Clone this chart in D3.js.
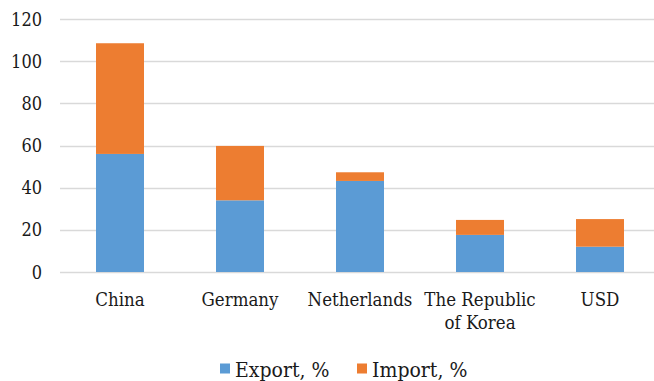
<!DOCTYPE html>
<html>
<head>
<meta charset="utf-8">
<script src="https://cdn.jsdelivr.net/npm/d3@7"></script>
<style>
  body { margin: 0; background: #fff; }
  svg text { font-family: "DejaVu Serif Condensed", "DejaVu Serif", serif; font-stretch: condensed; }
</style>
</head>
<body>
<svg id="chart" width="654" height="381"></svg>
<script>
const countries = ["China", "Germany", "Netherlands", "The Republic|of Korea", "USD"];
const exportPct = [56, 34, 43.2, 17.6, 12];
const importPct = [52.5, 25.8, 4.1, 7.1, 13.1];
const yTicks = [0, 20, 40, 60, 80, 100, 120];
const seriesNames = ["Export, %", "Import, %"];
const colors = ["#5b9bd5", "#ed7d31"];

const svg = d3.select("#chart");

const x = d3.scaleBand().domain(countries).range([60, 660]).paddingInner(0.6).paddingOuter(0.3);
const y = d3.scaleLinear().domain([0, 120]).range([272, 19]);

// gridlines
svg.append("g").selectAll("line")
  .data(yTicks)
  .enter().append("line")
  .attr("x1", 60).attr("x2", 654)
  .attr("y1", d => Math.round(y(d)) + 0.5)
  .attr("y2", d => Math.round(y(d)) + 0.5)
  .attr("stroke", "#d9d9d9")
  .attr("stroke-width", 1.5);

// y labels
svg.append("g").selectAll("text")
  .data(yTicks)
  .enter().append("text")
  .attr("x", 42)
  .attr("y", d => y(d) + 6.5)
  .attr("text-anchor", "end")
  .attr("fill", "#1a1a1a")
  .style("font-size", "18px")
  .text(d => d);

// stacked bars
const rows = countries.map((c, i) => ({ country: c, exp: exportPct[i], imp: importPct[i] }));
const stack = d3.stack().keys(["exp", "imp"])(rows);

svg.append("g").selectAll("g")
  .data(stack)
  .enter().append("g")
  .attr("fill", (d, i) => colors[i])
  .selectAll("rect")
  .data(d => d)
  .enter().append("rect")
  .attr("x", d => x(d.data.country))
  .attr("width", x.bandwidth())
  .attr("y", d => y(d[1]))
  .attr("height", d => y(d[0]) - y(d[1]));

// x labels
const xl = svg.append("g").selectAll("text")
  .data(countries)
  .enter().append("text")
  .attr("x", d => x(d) + x.bandwidth() / 2)
  .attr("y", 305.5)
  .attr("text-anchor", "middle")
  .attr("fill", "#1a1a1a")
  .style("font-size", "18.5px");
xl.selectAll("tspan")
  .data(d => d.split("|").map(s => ({ s, x: x(d) + x.bandwidth() / 2 })))
  .enter().append("tspan")
  .attr("x", d => d.x)
  .attr("dy", (d, i) => i === 0 ? 0 : 23.5)
  .text(d => d.s);

// legend
const legendX = [220, 357];
const legend = svg.append("g").selectAll("g")
  .data(seriesNames)
  .enter().append("g")
  .attr("transform", (d, i) => `translate(${legendX[i]},0)`);
legend.append("rect")
  .attr("x", 0).attr("y", 363.5)
  .attr("width", 10).attr("height", 10)
  .attr("fill", (d, i) => colors[i]);
legend.append("text")
  .attr("x", 15).attr("y", 377)
  .attr("fill", "#1a1a1a")
  .style("font-size", "21px")
  .text(d => d);
</script>
</body>
</html>
